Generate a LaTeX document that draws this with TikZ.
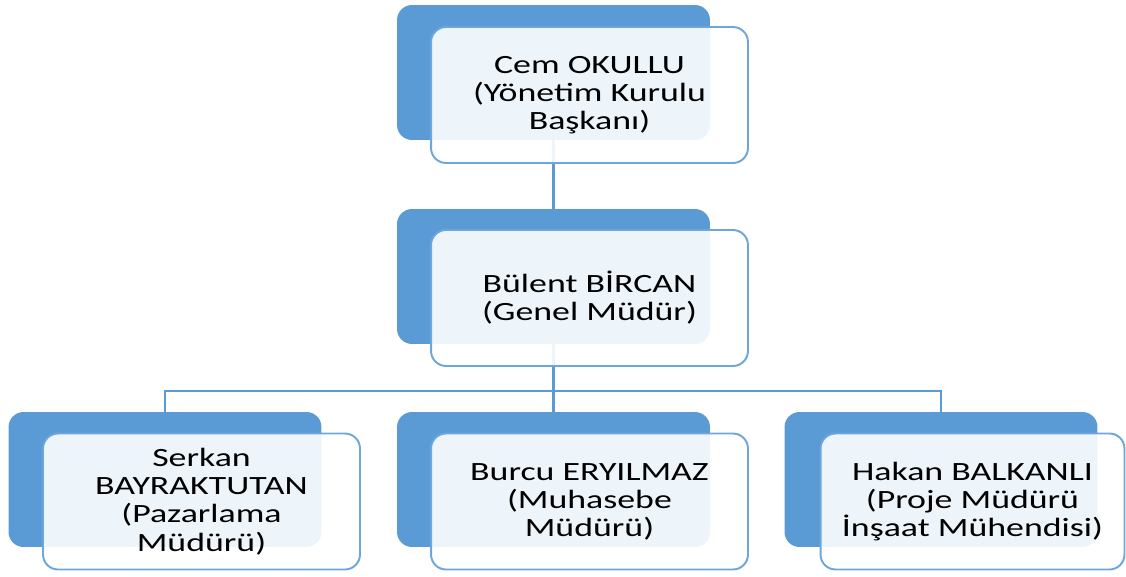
\documentclass[tikz,border=0pt]{standalone}
\usepackage{fontspec}
\setmainfont{Carlito}[FakeStretch=1.36]
\definecolor{boxblue}{HTML}{5B9BD5}
\definecolor{edgeblue}{HTML}{6CA6DB}
\begin{document}
\begin{tikzpicture}[x=0.02cm,y=-0.02cm,
    back/.style={fill=boxblue, rounded corners=0.3cm, minimum width=6.26cm, minimum height=2.7cm},
    front/.style={draw=edgeblue, line width=1.1pt, fill=white, fill opacity=0.9, text opacity=1,
        rounded corners=0.3cm, minimum width=6.34cm, minimum height=2.72cm, align=center,
        font=\fontsize{15}{16}\selectfont},
    link/.style={draw=boxblue, line width=1.2pt}]
    \useasboundingbox (0,0) rectangle (1126,576);
    % blue back plates
    \node[back] (cemback) at (553.5,72.5) {};
    \node[back] (bulentback) at (553.5,276.5) {};
    \node[back] (serkanback) at (165,479.5) {};
    \node[back] (burcuback) at (553.5,479.5) {};
    \node[back] (hakanback) at (941,479.5) {};
    % connectors
    \coordinate (split) at (553.5,391);
    \draw[link] (cemback.south) -- (bulentback.north);
    \draw[link] (bulentback.south) -- (split);
    \draw[link] (serkanback.north) |- (split) -| (hakanback.north);
    \draw[link] (split) -- (burcuback.north);
    % front boxes
    \node[front] (cem) at (589.5,95) {Cem OKULLU\\(Yönetim Kurulu\\Başkanı)};
    \node[front] (bulent) at (589.5,298) {Bülent BİRCAN\\(Genel Müdür)};
    \node[front] (serkan) at (201.5,501.5) {Serkan\\BAYRAKTUTAN\\(Pazarlama\\Müdürü)};
    \node[front] (burcu) at (589.5,501.5) {Burcu ERYILMAZ\\(Muhasebe\\Müdürü)};
    \node[front, minimum width=6.08cm] (hakan) at (972.5,501.5) {Hakan BALKANLI\\(Proje Müdürü\\İnşaat Mühendisi)};
\end{tikzpicture}
\end{document}
